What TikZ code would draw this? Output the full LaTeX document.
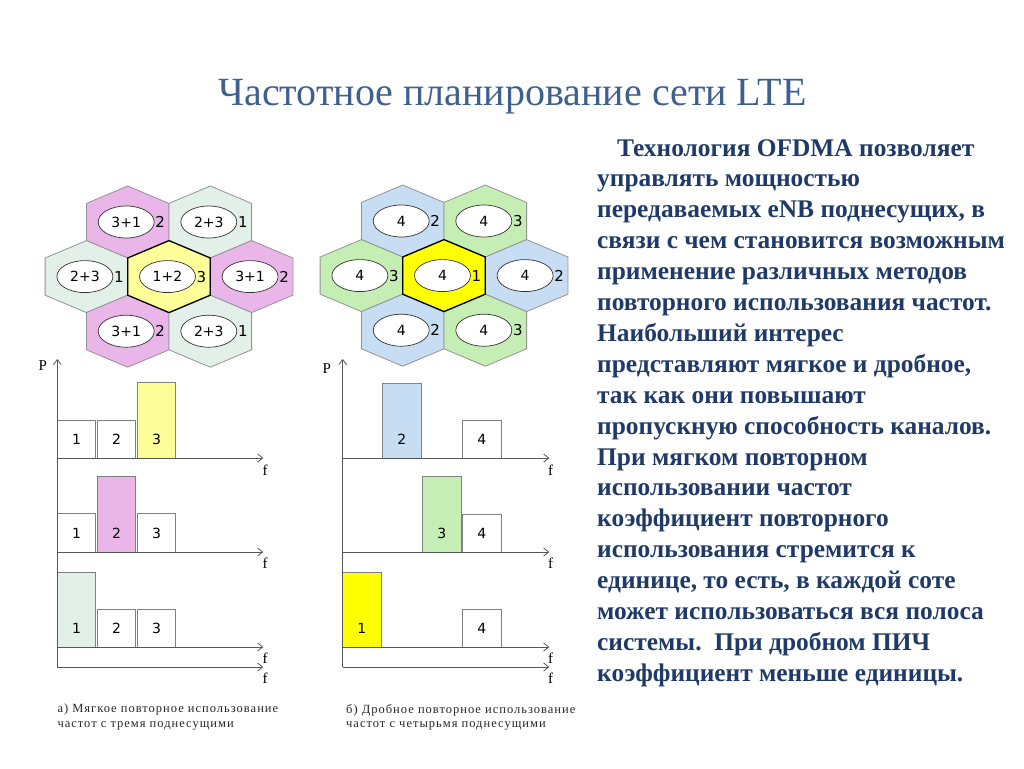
\documentclass[tikz,border=0pt]{standalone}
\usepackage{fontspec}
\setmainfont{Liberation Serif}
\newfontfamily\cellfont{DejaVu Sans}
\newfontfamily\capfont[LetterSpace=8]{Liberation Serif}
\usetikzlibrary{shapes.geometric, arrows.meta}
\definecolor{titleblue}{HTML}{3F5F8F}
\definecolor{textblue}{HTML}{1F3A68}
\definecolor{pinkcell}{HTML}{EAB6EA}
\definecolor{mintcell}{HTML}{E3F0EA}
\definecolor{paleyellow}{HTML}{FFFF99}
\definecolor{bluecell}{HTML}{C6DDF3}
\definecolor{greencell}{HTML}{C5EEB5}
\definecolor{brightyellow}{HTML}{FFFF00}
\definecolor{axisgray}{HTML}{555555}

\tikzset{
  hexline/.style={draw=gray!85, line width=0.8pt},
  centreline/.style={draw=black, line width=1.3pt},
  cellring/.style={ellipse, draw=black!80, fill=white, line width=0.7pt, minimum width=56pt, minimum height=32pt, inner sep=0pt, font=\cellfont\fontsize{14}{16}\selectfont},
  celltag/.style={inner sep=0pt, font=\cellfont\fontsize{15}{17}\selectfont},
  bar/.style={draw=gray, line width=0.8pt},
  barnum/.style={inner sep=0pt, font=\cellfont\fontsize{14}{16}\selectfont},
  axis/.style={draw=axisgray, line width=0.8pt},
  axisarrow/.style={axis, -{Straight Barb[length=5pt,width=8pt]}},
  axlabel/.style={inner sep=0pt, font=\fontsize{15}{17}\selectfont},
  capnote/.style={inner sep=0pt, align=left, text=black!85, font=\capfont\fontsize{12.5}{14.7}\selectfont},
  bodytext/.style={inner sep=0pt, align=left, text=textblue, font=\bfseries\fontsize{25.4}{30.9}\selectfont},
}

\begin{document}
\begin{tikzpicture}[x=1pt,y=-1pt]
\useasboundingbox (0,0) rectangle (1024,768);

\node[anchor=base, inner sep=0pt, text=titleblue, font=\fontsize{40}{44}\selectfont] (title) at (512.5,105.7) {Частотное планирование сети LTE};

\foreach \cx/\cy/\col/\inner/\side/\nm in {127.7/222/pinkcell/3+1/2/ta, 210.3/222/mintcell/2+3/1/tb,
  86.4/276.6/mintcell/2+3/1/tc, 169/276.6/paleyellow/1+2/3/td, 251.6/276.6/pinkcell/3+1/2/te,
  127.7/331.2/pinkcell/3+1/2/tf, 210.3/331.2/mintcell/2+3/1/tg,
  402.7/221/bluecell/4/2/ra, 485.3/221/greencell/4/3/rb,
  361.4/275.6/greencell/4/3/rc, 444/275.6/brightyellow/4/1/rd, 526.6/275.6/bluecell/4/2/re,
  402.7/330.2/bluecell/4/2/rf, 485.3/330.2/greencell/4/3/rg}
{
\filldraw[hexline, fill=\col] (\cx-41.3,\cy-18.6) -- (\cx,\cy-36) -- (\cx+41.3,\cy-18.6) -- (\cx+41.3,\cy+18.6) -- (\cx,\cy+36) -- (\cx-41.3,\cy+18.6) -- cycle;
\node[cellring] (\nm) at (\cx-1.5,\cy) {\inner};
\node[celltag] (\nm-tag) at (\cx+32.5,\cy) {\side};
}
\foreach \cx/\cy in {169/276.6, 444/275.6}
\draw[centreline] (\cx-41.3,\cy-18.6) -- (\cx,\cy-36) -- (\cx+41.3,\cy-18.6) -- (\cx+41.3,\cy+18.6) -- (\cx,\cy+36) -- (\cx-41.3,\cy+18.6) -- cycle;

\foreach \bx/\by/\bh/\col/\num/\nm in {57.3/458/37.7/white/1/pa1, 97.3/458/37.7/white/2/pa2, 137.3/458/75.4/paleyellow/3/pa3,
  57.3/552/38.3/white/1/pb1, 97.3/552/75.5/pinkcell/2/pb2, 137.3/552/38.3/white/3/pb3,
  57.3/647/75/mintcell/1/pc1, 97.3/647/38/white/2/pc2, 137.3/647/38/white/3/pc3,
  382.7/458/75/bluecell/2/qa2, 462.7/458/37.3/white/4/qa4,
  422.7/552/75.3/greencell/3/qb3, 462.7/552/38/white/4/qb4,
  342.7/647/75/brightyellow/1/qc1, 462.7/647/37.4/white/4/qc4}
{
\filldraw[bar, fill=\col] (\bx,\by) rectangle ++(38.3,-\bh);
\node[barnum] (\nm) at (\bx+19.2,\by-19) {\num};
}

\draw[axisarrow] (57.3,667) -- (57.3,359);
\draw[axisarrow] (342.7,667) -- (342.7,359);
\foreach \yy in {458,552,647,667}
{
\draw[axisarrow] (57.3,\yy) -- (263.3,\yy);
\draw[axisarrow] (342.7,\yy) -- (549.3,\yy);
}

\node[axlabel] (pl) at (42.7,365.7) {P};
\node[axlabel] (pr) at (326.7,369) {P};
\foreach \yy/\nm in {470/fa, 563.3/fb, 658.3/fc, 678.3/fd}
{
\node[axlabel] (l\nm) at (265,\yy) {f};
\node[axlabel] (r\nm) at (550.7,\yy) {f};
}

\node[capnote, anchor=north west] (capa) at (57.3,704) {а) Мягкое повторное использование\\частот с тремя поднесущими};
\node[capnote, anchor=north west] (capb) at (346,704) {б) Дробное повторное использование\\частот с четырьмя поднесущими};

\node[bodytext, anchor=north west] (body) at (597,139) {\hspace*{20pt}Технология OFDMA позволяет\\
управлять мощностью\\
передаваемых eNB поднесущих, в\\
связи с чем становится возможным\\
применение различных методов\\
повторного использования частот.\\
Наибольший интерес\\
представляют мягкое и дробное,\\
так как они повышают\\
пропускную способность каналов.\\
При мягком повторном\\
использовании частот\\
коэффициент повторного\\
использования стремится к\\
единице, то есть, в каждой соте\\
может использоваться вся полоса\\
системы.\ \ При дробном ПИЧ\\
коэффициент меньше единицы.};
\end{tikzpicture}
\end{document}
